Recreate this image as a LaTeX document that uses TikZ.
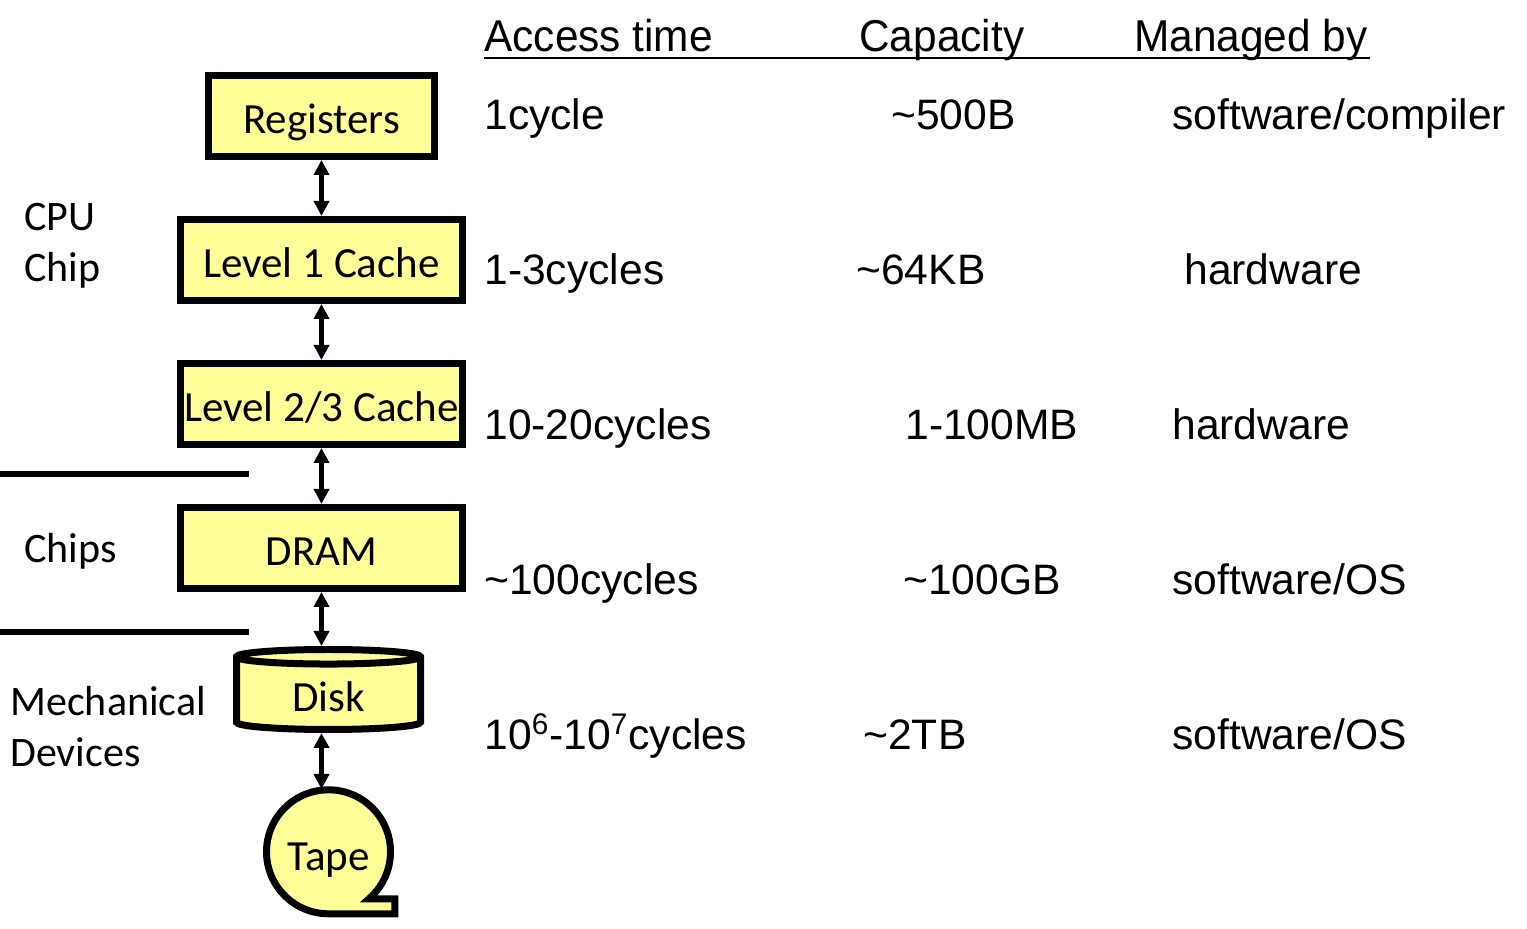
\documentclass[tikz,border=0pt]{standalone}
\usepackage{fontspec}
\setmainfont{Carlito}
\newfontfamily\arialfont{Liberation Sans}
\newfontfamily\narrowfont[FakeStretch=0.95]{Liberation Sans}
\usetikzlibrary{shapes.geometric, arrows.meta, positioning, backgrounds}
\definecolor{memyellow}{RGB}{255,255,153}
\tikzstyle{level} = [rectangle, minimum width=141pt, minimum height=40.5pt, draw=black, line width=3.5pt, fill=memyellow, font=\fontsize{21.5}{25}\selectfont, inner sep=0pt, text height=18pt, text depth=0pt]
\tikzstyle{store} = [cylinder, shape border rotate=90, aspect=0.2, minimum width=92pt, minimum height=40pt, draw=black, line width=3.5pt, fill=memyellow, font=\fontsize{21.5}{25}\selectfont, inner sep=0pt, text height=17pt, text depth=0pt]
\tikzstyle{reel} = [circle, minimum size=62pt, inner sep=0pt, font=\fontsize{21.5}{25}\selectfont, text height=19pt, text depth=0pt]
\tikzstyle{link} = [line width=2.8pt, {Triangle[length=7.5pt,width=7.5pt]}-{Triangle[length=7.5pt,width=7.5pt]}]
\tikzstyle{side} = [anchor=west, align=left, inner sep=0pt, font=\fontsize{21}{25.5}\selectfont]
\tikzstyle{cell} = [anchor=base west, inner sep=0pt, font=\arialfont\fontsize{21.3}{25}\selectfont]
\tikzstyle{head} = [anchor=base west, inner sep=0pt, font=\narrowfont\fontsize{22.3}{25}\selectfont]

\begin{document}
\begin{tikzpicture}[x=0.5pt, y=-0.5pt, node distance=28pt]
    \useasboundingbox (0,0) rectangle (1527,929);

    % memory hierarchy
    \node (reg) [level, minimum width=113pt] at (321.5,116) {Registers};
    \node (l1) [level, below=of reg] {Level 1 Cache};
    \node (l2) [level, below=of l1] {Level 2/3 Cache};
    \node (dram) [level, below=of l2] {DRAM};
    \node (disk) [store, below=of dram, xshift=3.5pt, yshift=1pt] {Disk};
    \node (tape) [reel, below=of disk] {Tape};
    \begin{pgfonlayer}{background}
        \draw [line width=3.5pt, fill=memyellow] (tape.south) arc[start angle=-90, end angle=-409.3, radius=31pt] -- ++(13pt,0) -- ++(0,-7.5pt) -- cycle;
    \end{pgfonlayer}

    \draw [link] (reg) -- (l1);
    \draw [link] (l1) -- (l2);
    \draw [link] (l2) -- (dram);
    \draw [link] (dram.south) -- (dram.south |- disk.north);
    \draw [link] (dram.south |- disk.south) -- (dram.south |- tape.north);

    % levels on the left
    \node (cpu) [side] at (24,246) {CPU\\Chip};
    \node (chips) [side] at (24,551) {Chips};
    \node (mech) [side] at (10,727) {Mechanical\\Devices};
    \draw [line width=3pt] (0,474) -- (249,474);
    \draw [line width=3pt] (0,632) -- (249,632);

    % table
    \node (hacc) [head] at (484,52) {Access time};
    \node (hcap) [head] at (859,52) {Capacity};
    \node (hman) [head] at (1134,52) {Managed by};
    \draw [line width=1pt] (484,58) -- (1370,58);

    \node (t1) [cell] at (484,130) {1cycle};
    \node (c1) [cell] at (891,130) {\textasciitilde500B};
    \node (m1) [cell] at (1172,130) {software/compiler};
    \node (t2) [cell] at (484,285) {1-3cycles};
    \node (c2) [cell] at (856,285) {\textasciitilde64KB};
    \node (m2) [cell] at (1184,285) {hardware};
    \node (t3) [cell] at (484,440) {10-20cycles};
    \node (c3) [cell] at (905,440) {1-100MB};
    \node (m3) [cell] at (1172,440) {hardware};
    \node (t4) [cell] at (484,595) {\textasciitilde100cycles};
    \node (c4) [cell] at (903,595) {\textasciitilde100GB};
    \node (m4) [cell] at (1172,595) {software/OS};
    \node (t5) [cell] at (484,750) {10\textsuperscript{6}-10\textsuperscript{7}cycles};
    \node (c5) [cell] at (863,750) {\textasciitilde2TB};
    \node (m5) [cell] at (1172,750) {software/OS};
\end{tikzpicture}
\end{document}
